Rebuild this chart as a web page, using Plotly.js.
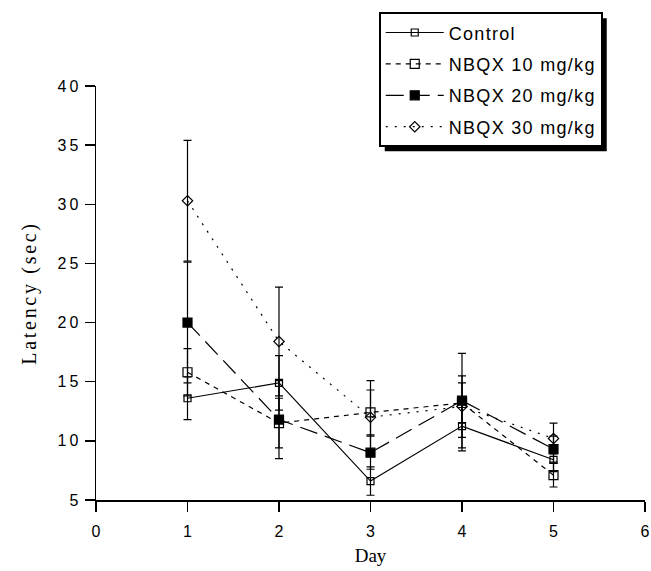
<!DOCTYPE html>
<html>
<head>
<meta charset="utf-8">
<script src="https://cdn.plot.ly/plotly-3.0.1.min.js"></script>
<style>
  html, body { margin: 0; padding: 0; background: #fff; }
  .legendtext { letter-spacing: 1.3px; }
  .ytick text { letter-spacing: 3px; }
  .ytitle { letter-spacing: 2.7px; }
</style>
</head>
<body>
<div id="chart" style="width:651px;height:571px;"></div>
<script>
// ---- data ----
const days = [1, 2, 3, 4, 5];
const seriesNames = ["Control", "NBQX 10 mg/kg", "NBQX 20 mg/kg", "NBQX 30 mg/kg"];
const controlMean = [13.6, 14.9, 6.6, 11.25, 8.4];
const controlErr  = [1.8, 2.3, 1.2, 2.1, 1.0];
const nbqx10Mean  = [15.8, 11.5, 12.4, 13.2, 7.1];
const nbqx10Err   = [2.0, 2.1, 1.9, 1.7, 1.0];
const nbqx20Mean  = [20.0, 11.8, 9.0, 13.4, 9.3];
const nbqx20Err   = [5.1, 3.3, 1.4, 4.0, 1.1];
const nbqx30Mean  = [30.3, 18.4, 12.0, 12.9, 10.2];
const nbqx30Err   = [5.1, 4.6, 3.1, 2.6, 1.3];
const xTickVals = [0, 1, 2, 3, 4, 5, 6];
const yTickVals = [5, 10, 15, 20, 25, 30, 35, 40];

function mk(name, y, err, dash, symbol, size, group) {
  return {
    type: "scatter", mode: "lines+markers", name: name, x: days, y: y,
    legendgroup: group,
    line: { color: "#000", width: 1.2, dash: dash },
    marker: { symbol: symbol, size: size, color: "#000", line: { color: "#000", width: 1.2 } },
    error_y: { type: "data", array: err, visible: true, color: "#000", thickness: 1.2, width: 4 }
  };
}

const traces = [
  mk(seriesNames[0], controlMean, controlErr, "solid", "square-open", 7, "a"),
  mk(seriesNames[1], nbqx10Mean, nbqx10Err, "5px,5px", "square-open", 9, "b"),
  mk(seriesNames[2], nbqx20Mean, nbqx20Err, "18px,8px", "square", 9, "c"),
  mk(seriesNames[3], nbqx30Mean, nbqx30Err, "2px,7px", "diamond-open", 8, "d")
];

const layout = {
  width: 651, height: 571,
  margin: { l: 96, r: 6, t: 86, b: 71 },
  paper_bgcolor: "#fff", plot_bgcolor: "#fff",
  showlegend: true,
  font: { family: "Liberation Sans, Arial, sans-serif", color: "#000" },
  xaxis: {
    range: [0, 6], tickvals: xTickVals, showgrid: false, zeroline: false,
    showline: true, linecolor: "#000", linewidth: 1.5,
    ticks: "outside", ticklen: 10, tickwidth: 1.5, tickcolor: "#000",
    ticklabelstandoff: 6,
    tickfont: { family: "Liberation Sans, Arial, sans-serif", size: 16, color: "#000" },
    title: { text: "Day", font: { family: "Liberation Serif, Times New Roman, serif", size: 19, color: "#000" }, standoff: 10 }
  },
  yaxis: {
    range: [5, 40], tickvals: yTickVals, showgrid: false, zeroline: false,
    showline: true, linecolor: "#000", linewidth: 1.5,
    ticks: "outside", ticklen: 10, tickwidth: 1.5, tickcolor: "#000",
    tickfont: { family: "Liberation Sans, Arial, sans-serif", size: 16, color: "#000" },
    title: { text: "Latency (sec)", font: { family: "Liberation Serif, Times New Roman, serif", size: 20, color: "#000" }, standoff: 15 }
  },
  legend: {
    x: 0.515, y: 1.178, xanchor: "left", yanchor: "top",
    bgcolor: "#fff", bordercolor: "#000", borderwidth: 2,
    font: { family: "Liberation Sans, Arial, sans-serif", size: 18, color: "#000" },
    traceorder: "grouped", tracegroupgap: 5, itemwidth: 58
  }
};

Plotly.newPlot("chart", traces, layout, { displayModeBar: false, staticPlot: true }).then(function (gd) {
  const bg = gd.querySelector(".legend .bg");
  if (!bg) return;
  const r = bg.getBoundingClientRect();
  const g = gd.getBoundingClientRect();
  const fs = gd._fullLayout._size;
  const toX = px => (px - g.left - fs.l) / fs.w;
  const toY = py => 1 - (py - g.top - fs.t) / fs.h;
  const off = 5;
  return Plotly.relayout(gd, {
    shapes: [{
      type: "rect", xref: "paper", yref: "paper", layer: "above",
      x0: toX(r.left + off), x1: toX(r.right + off),
      y0: toY(r.top + off), y1: toY(r.bottom + off),
      fillcolor: "#000", line: { width: 0 }
    }]
  });
});
</script>
</body>
</html>
